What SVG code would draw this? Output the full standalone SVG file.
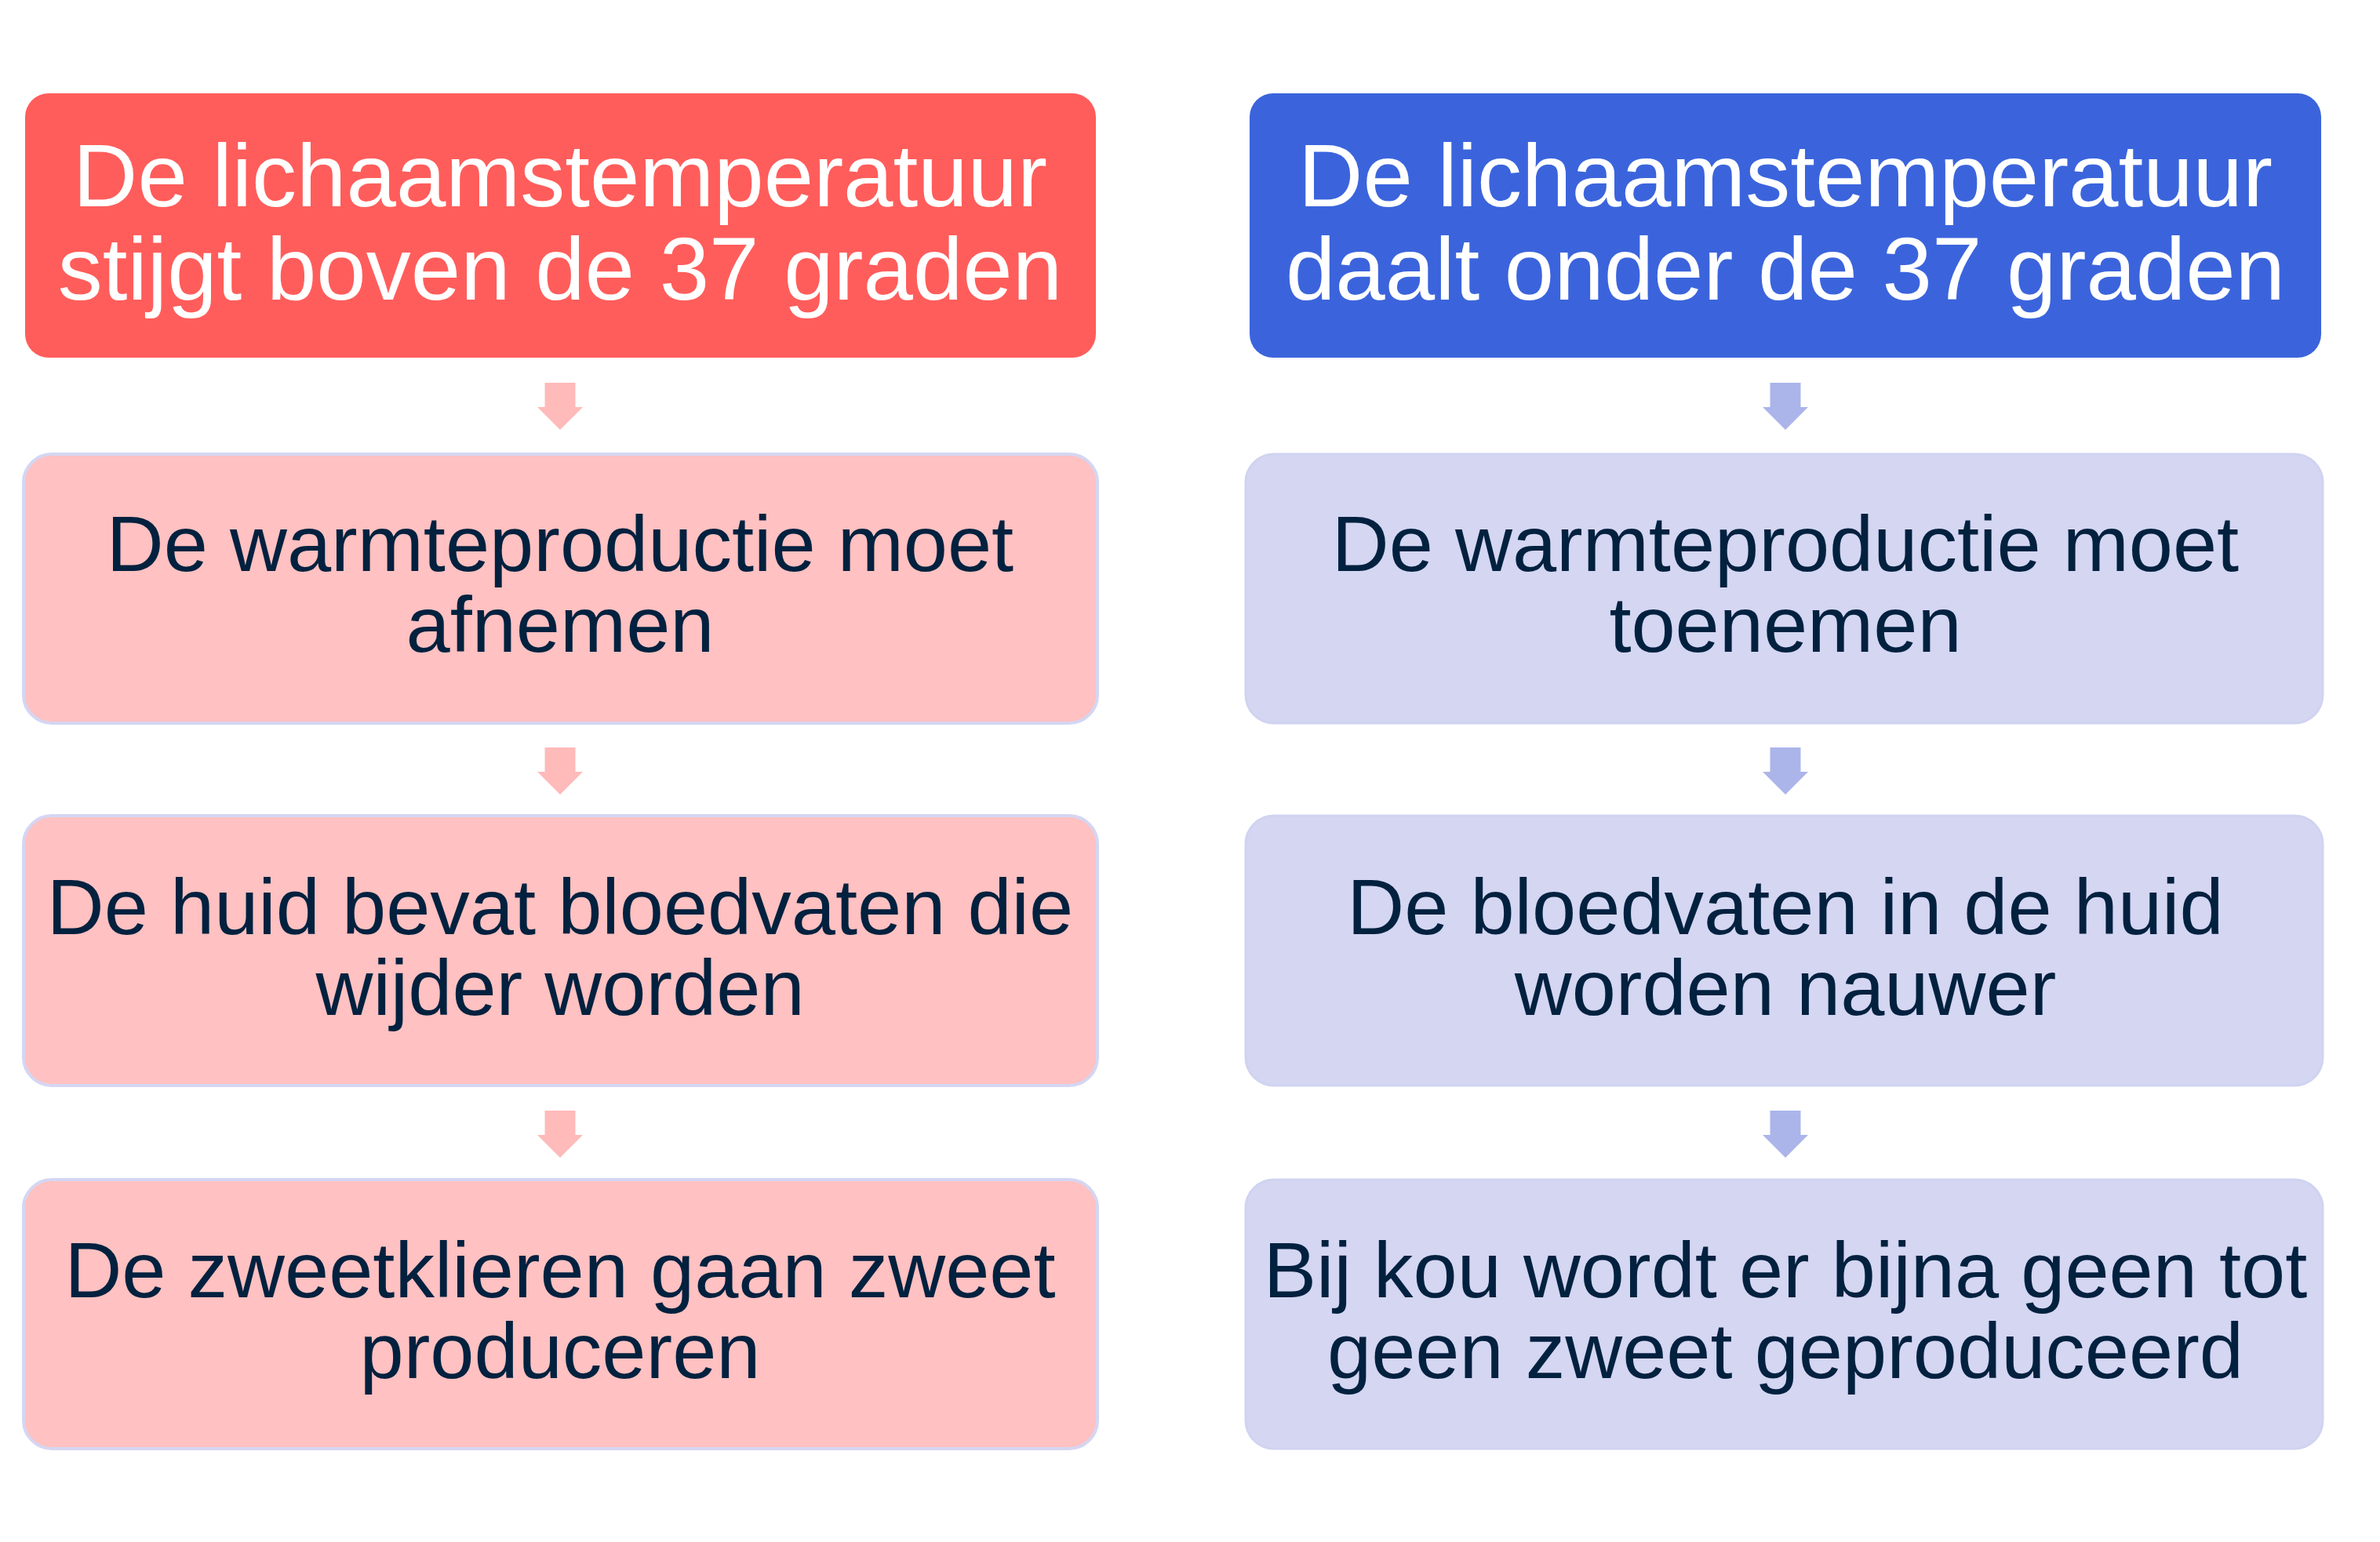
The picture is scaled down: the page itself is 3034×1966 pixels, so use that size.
<svg xmlns="http://www.w3.org/2000/svg" xmlns:xlink="http://www.w3.org/1999/xlink" width="3034" height="1966" viewBox="0 0 3034 1966">
<style>
.bg{fill:#ffffff}
.hotHead{fill:#ff5d5b}
.coldHead{fill:#3b64dc}
.hot{fill:#ffc1c1;stroke:#d4d6f2;stroke-width:4}
.cold{fill:#d4d6f2;stroke:#d0d3f0;stroke-width:3}
.hd{font-family:"Liberation Sans",Arial,sans-serif;font-size:114px;fill:#ffffff;text-anchor:middle}
.tx{font-family:"Liberation Sans",Arial,sans-serif;font-size:101px;fill:#02213f;text-anchor:middle}
.ah{fill:#ffbaba}
.ac{fill:#abb5ea}
</style>
<defs>
<path id="arrow" d="M-19.5,0 H19.5 V31 H29 L0,60 L-29,31 H-19.5 Z"/>
</defs>
<rect class="bg" x="0" y="0" width="3034" height="1966"/>
<g id="connectors">
<use href="#arrow" class="ah" x="714" y="488"/>
<use href="#arrow" class="ah" x="714" y="953"/>
<use href="#arrow" class="ah" x="714" y="1416"/>
<use href="#arrow" class="ac" x="2276" y="488"/>
<use href="#arrow" class="ac" x="2276" y="953"/>
<use href="#arrow" class="ac" x="2276" y="1416"/>
</g>
<g id="hot1">
<rect class="hotHead" x="32" y="119" width="1365" height="337" rx="30"/>
<text class="hd" x="714" y="263">De lichaamstemperatuur</text>
<text class="hd" x="714" y="382">stijgt boven de 37 graden</text>
</g>
<g id="hot2">
<rect class="hot" x="30" y="579" width="1369" height="343" rx="36"/>
<text class="tx" x="714" y="728">De warmteproductie moet</text>
<text class="tx" x="714" y="831">afnemen</text>
</g>
<g id="hot3">
<rect class="hot" x="30" y="1040" width="1369" height="344" rx="36"/>
<text class="tx" x="714" y="1191">De huid bevat bloedvaten die</text>
<text class="tx" x="714" y="1294">wijder worden</text>
</g>
<g id="hot4">
<rect class="hot" x="30" y="1504" width="1369" height="343" rx="36"/>
<text class="tx" x="714" y="1654">De zweetklieren gaan zweet</text>
<text class="tx" x="714" y="1757">produceren</text>
</g>
<g id="cold1">
<rect class="coldHead" x="1593" y="119" width="1366" height="337" rx="30"/>
<text class="hd" x="2276" y="263">De lichaamstemperatuur</text>
<text class="hd" x="2276" y="382">daalt onder de 37 graden</text>
</g>
<g id="cold2">
<rect class="cold" x="1588" y="579" width="1373" height="343" rx="36"/>
<text class="tx" x="2276" y="728">De warmteproductie moet</text>
<text class="tx" x="2276" y="831">toenemen</text>
</g>
<g id="cold3">
<rect class="cold" x="1588" y="1040" width="1373" height="344" rx="36"/>
<text class="tx" x="2276" y="1191">De bloedvaten in de huid</text>
<text class="tx" x="2276" y="1294">worden nauwer</text>
</g>
<g id="cold4">
<rect class="cold" x="1588" y="1504" width="1373" height="343" rx="36"/>
<text class="tx" x="2276" y="1654">Bij kou wordt er bijna geen tot</text>
<text class="tx" x="2276" y="1757">geen zweet geproduceerd</text>
</g>
</svg>
